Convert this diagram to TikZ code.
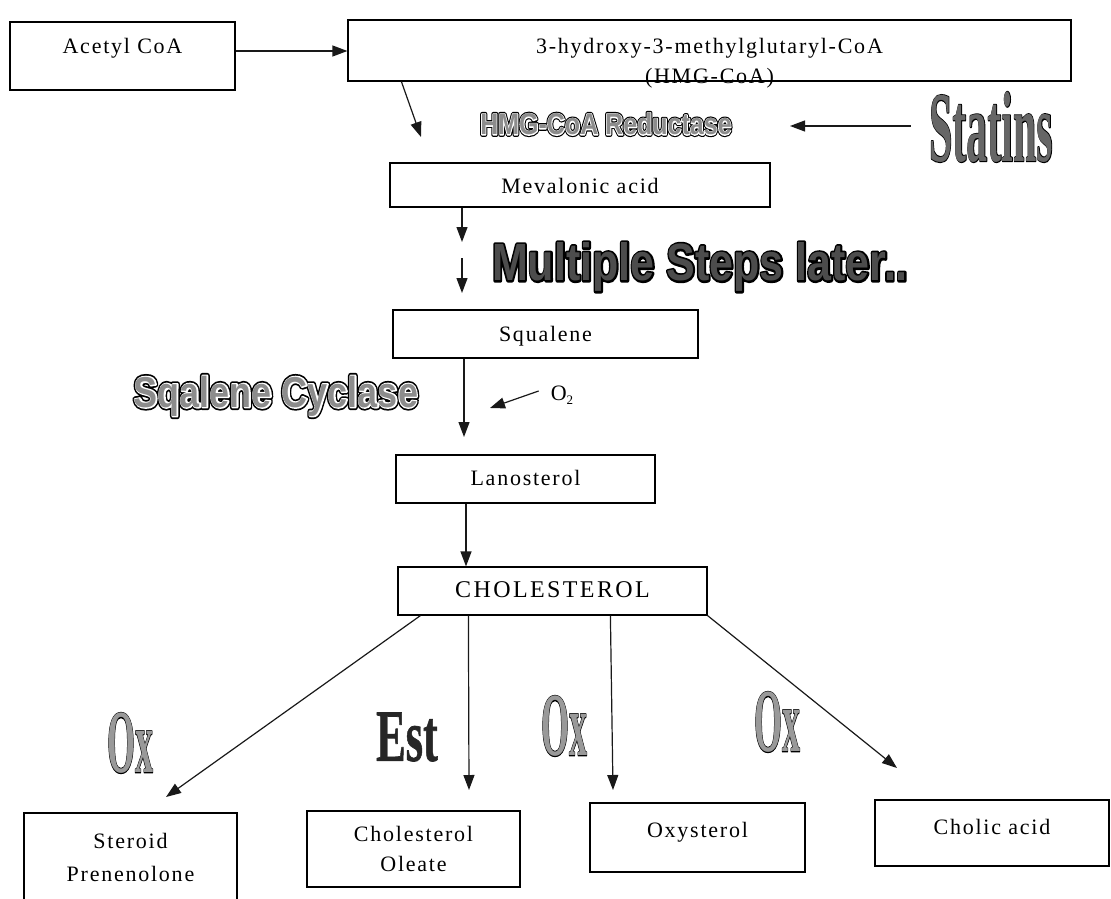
\documentclass[tikz,border=0pt]{standalone}
\usepackage{fontspec}
\setmainfont{Liberation Serif}
\newfontfamily\boxfont{Liberation Serif}[LetterSpace=8]
\newfontfamily\boxfontwide{Liberation Serif}[LetterSpace=10]
\newfontfamily\sansBlackFB{Liberation Sans Bold}[FakeBold=14]
\newfontfamily\sansWhiteFB{Liberation Sans Bold}[FakeBold=6]
\newfontfamily\sansHeavyFB{Liberation Sans Bold}[FakeBold=8]
\newfontfamily\sansPlain{Liberation Sans Bold}
\newfontfamily\serifOutFB{Liberation Serif Bold}[FakeBold=2]
\newfontfamily\serifPlain{Liberation Serif Bold}
\newfontfamily\serifEstFB{Liberation Serif Bold}[FakeBold=1]
\usetikzlibrary{arrows.meta}
\newcommand\hollowtext[2]{{\fontsize{#1}{#1}\selectfont\rlap{\sansBlackFB\color{black}#2}\rlap{\sansWhiteFB\color{white}#2}{\sansPlain\color{black!45}#2}}}
\newcommand\heavytext[2]{{\fontsize{#1}{#1}\selectfont\rlap{\sansHeavyFB\color{black}#2}{\sansPlain\color{black!70}#2}}}
\newcommand\serifart[4]{\scalebox{#1}[1]{\fontsize{#2}{#2}\selectfont\rlap{\serifOutFB\color{black}#4}{\serifPlain\color{#3}#4}}}
\begin{document}
\begin{tikzpicture}[x=1pt,y=-1pt,
  box/.style={draw, line width=1.2pt, inner sep=0pt, font=\boxfont\fontsize{22}{26}\selectfont},
  arr/.style={line width=1.2pt, -{Triangle[length=15pt,width=11pt]}, color=black!90},
  free/.style={inner sep=0pt, line join=round}]
\fill[white] (0,0) rectangle (1111,899);
\useasboundingbox (0,0) rectangle (1111,899);

% top row
\node[box, minimum width=225pt, minimum height=68pt, text height=10pt, text depth=14pt] (acetyl) at (122.5,56) {Acetyl CoA};
\node[free, anchor=base, font=\boxfont\fontsize{22}{26}\selectfont] (hmgabbr) at (709.5,84) {(HMG-CoA)};
\node[box, minimum width=723pt, minimum height=61pt, text height=14pt, text depth=7pt] (hmg) at (709.5,50.5) {3-hydroxy-3-methylglutaryl-CoA};
\draw[arr] ([yshift=5pt]acetyl.east) -- ([yshift=5pt]acetyl.east -| hmg.west);

% reductase
\coordinate (redtip) at (421,137);
\draw[arr] ([xshift=54pt]hmg.south west) -- (redtip);
\node[free] (reductase) at (606,124) {\scalebox{1}[1.2]{\hollowtext{25}{HMG-CoA Reductase}}};
\node[free] (statins) at (991,127) {\serifart{0.42}{100}{black!60}{Statins}};
\coordinate (sttip) at (790,126);
\draw[arr] ([xshift=-18pt,yshift=1pt]statins.west) -- (sttip);

% mevalonic
\node[box, minimum width=380pt, minimum height=44pt, text height=18pt, text depth=2pt] (mevalonic) at (580,185) {Mevalonic acid};
\coordinate (m1) at (462,242);
\coordinate (m2a) at (462,258);
\coordinate (m2b) at (462,293);
\draw[arr] (mevalonic.south -| m1) -- (m1);
\draw[arr] (m2a) -- (m2b);
\node[free] (multi) at (700,267) {\scalebox{1}[1.22]{\heavytext{43}{Multiple Steps later..}}};

% squalene
\node[box, minimum width=305pt, minimum height=48pt, text height=17pt, text depth=3pt] (squalene) at (545.5,334) {Squalene};
\coordinate (sqtip) at (464,437);
\draw[arr] (squalene.south -| sqtip) -- (sqtip);
\node[free] (cyclase) at (276,396) {\scalebox{1}[1.2]{\hollowtext{36}{Sqalene Cyclase}}};
\node[free, font=\fontsize{22}{24}\selectfont] (o2) at (562,395) {O\raisebox{-4pt}{\fontsize{13}{14}\selectfont 2}};
\coordinate (o2tip) at (490,408);
\draw[arr] ([shift={(-12pt,4pt)}]o2.west) -- (o2tip);

% lanosterol
\node[box, minimum width=259pt, minimum height=48pt, text height=16pt, text depth=4pt] (lanosterol) at (525.5,479) {Lanosterol};
\node[box, minimum width=309pt, minimum height=48pt, text height=17pt, text depth=4pt, font=\boxfontwide\fontsize{24}{26}\selectfont] (cholesterol) at (552.5,591) {CHOLESTEROL};
\draw[arr] ([xshift=-59.5pt]lanosterol.south) -- ([xshift=-59.5pt]lanosterol.south |- cholesterol.north);

% products
\node[box, minimum width=213pt, minimum height=88pt, align=center, font=\boxfont\fontsize{22}{33}\selectfont] (steroid) at (130.5,857) {Steroid\\Prenenolone};
\node[box, minimum width=213pt, minimum height=76pt, align=center, font=\boxfont\fontsize{22}{30}\selectfont] (oleate) at (413.5,849) {Cholesterol\\Oleate};
\node[box, minimum width=215pt, minimum height=69pt, text height=10pt, text depth=10pt] (oxysterol) at (697.5,837.5) {Oxysterol};
\node[box, minimum width=234pt, minimum height=66pt, text height=11pt, text depth=9pt] (cholic) at (992,833) {Cholic acid};

\coordinate (ta) at (166,797);
\coordinate (tb) at (469,790);
\coordinate (tc) at (613,790);
\coordinate (td) at (897,768);
\draw[arr] ([xshift=23pt]cholesterol.south west) -- (ta);
\draw[arr] ([xshift=71pt]cholesterol.south west) -- (tb);
\draw[arr] ([xshift=213pt]cholesterol.south west) -- (tc);
\draw[arr] (cholesterol.south east) -- (td);

% enzyme labels
\node[free] (ox1) at (130,743) {\serifart{0.4}{90}{black!40}{Ox}};
\node[free] (est) at (407,737) {\scalebox{0.6}[1]{\fontsize{74}{74}\selectfont\serifEstFB\color{black!85}Est}};
\node[free] (ox2) at (564,726) {\serifart{0.4}{90}{black!40}{Ox}};
\node[free] (ox3) at (777,722) {\serifart{0.4}{90}{black!40}{Ox}};
\end{tikzpicture}
\end{document}
